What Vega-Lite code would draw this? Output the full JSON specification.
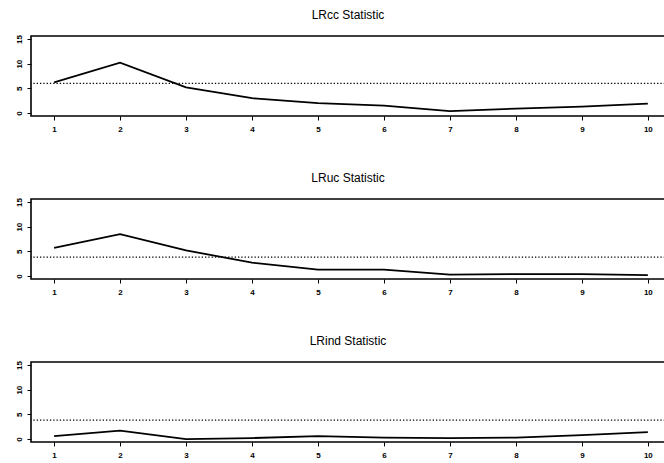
{
  "$schema": "https://vega.github.io/schema/vega-lite/v6.json",
  "padding": {"left": 0, "top": 7, "right": 0, "bottom": 0},
  "background": "white",
  "spacing": 36,
  "datasets": {
    "series": [
      {"stat": "LRcc", "lag": 1, "value": 6.2},
      {"stat": "LRcc", "lag": 2, "value": 10.2},
      {"stat": "LRcc", "lag": 3, "value": 5.2},
      {"stat": "LRcc", "lag": 4, "value": 3.0},
      {"stat": "LRcc", "lag": 5, "value": 2.0},
      {"stat": "LRcc", "lag": 6, "value": 1.5},
      {"stat": "LRcc", "lag": 7, "value": 0.4},
      {"stat": "LRcc", "lag": 8, "value": 0.9},
      {"stat": "LRcc", "lag": 9, "value": 1.3},
      {"stat": "LRcc", "lag": 10, "value": 1.9},
      {"stat": "LRuc", "lag": 1, "value": 5.7},
      {"stat": "LRuc", "lag": 2, "value": 8.5},
      {"stat": "LRuc", "lag": 3, "value": 5.2},
      {"stat": "LRuc", "lag": 4, "value": 2.7},
      {"stat": "LRuc", "lag": 5, "value": 1.3},
      {"stat": "LRuc", "lag": 6, "value": 1.3},
      {"stat": "LRuc", "lag": 7, "value": 0.3},
      {"stat": "LRuc", "lag": 8, "value": 0.4},
      {"stat": "LRuc", "lag": 9, "value": 0.4},
      {"stat": "LRuc", "lag": 10, "value": 0.2},
      {"stat": "LRind", "lag": 1, "value": 0.6},
      {"stat": "LRind", "lag": 2, "value": 1.7},
      {"stat": "LRind", "lag": 3, "value": 0.0},
      {"stat": "LRind", "lag": 4, "value": 0.2},
      {"stat": "LRind", "lag": 5, "value": 0.6},
      {"stat": "LRind", "lag": 6, "value": 0.3},
      {"stat": "LRind", "lag": 7, "value": 0.2},
      {"stat": "LRind", "lag": 8, "value": 0.3},
      {"stat": "LRind", "lag": 9, "value": 0.8},
      {"stat": "LRind", "lag": 10, "value": 1.4}
    ],
    "crit": [
      {"stat": "LRcc", "crit": 5.99},
      {"stat": "LRuc", "crit": 3.84},
      {"stat": "LRind", "crit": 3.84}
    ]
  },
  "config": {
    "font": "Liberation Sans",
    "view": {"stroke": "black", "strokeWidth": 1.6},
    "title": {"fontSize": 12, "fontWeight": "normal", "font": "Liberation Sans", "color": "black", "offset": 13},
    "axis": {
      "grid": false,
      "domain": false,
      "tickColor": "black",
      "labelColor": "black",
      "labelFont": "Liberation Sans",
      "labelFontWeight": "bold",
      "labelFontSize": 8,
      "tickSize": 4,
      "labelOverlap": false,
      "labelFlush": false,
      "title": null
    },
    "axisX": {"labelPadding": 5},
    "axisY": {"labelAngle": -90, "labelPadding": 4, "minExtent": 30, "maxExtent": 30, "labelAlign": "center", "labelBaseline": "bottom"}
  },
  "vconcat": [
    {
      "title": "LRcc Statistic",
      "width": 634,
      "height": 80,
      "layer": [
        {
          "data": {"name": "series"},
          "transform": [{"filter": "datum.stat === 'LRcc'"}],
          "mark": {"type": "line", "color": "black", "strokeWidth": 1.8},
          "encoding": {
            "x": {"field": "lag", "type": "quantitative", "scale": {"domain": [0.65, 10.26], "nice": false, "zero": false}, "axis": {"values": [1,2,3,4,5,6,7,8,9,10]}},
            "y": {"field": "value", "type": "quantitative", "scale": {"domain": [-0.6, 15.6], "nice": false}, "axis": {"values": [0,5,10,15]}}
          }
        },
        {
          "data": {"name": "crit"},
          "transform": [{"filter": "datum.stat === 'LRcc'"}],
          "mark": {"type": "rule", "color": "black", "strokeWidth": 1.3, "strokeDash": [1.3, 2]},
          "encoding": {"y": {"field": "crit", "type": "quantitative", "scale": {"domain": [-0.6, 15.6], "nice": false}, "axis": {"values": [0,5,10,15]}}}
        }
      ]
    },
    {
      "title": "LRuc Statistic",
      "width": 634,
      "height": 80,
      "layer": [
        {
          "data": {"name": "series"},
          "transform": [{"filter": "datum.stat === 'LRuc'"}],
          "mark": {"type": "line", "color": "black", "strokeWidth": 1.8},
          "encoding": {
            "x": {"field": "lag", "type": "quantitative", "scale": {"domain": [0.65, 10.26], "nice": false, "zero": false}, "axis": {"values": [1,2,3,4,5,6,7,8,9,10]}},
            "y": {"field": "value", "type": "quantitative", "scale": {"domain": [-0.6, 15.6], "nice": false}, "axis": {"values": [0,5,10,15]}}
          }
        },
        {
          "data": {"name": "crit"},
          "transform": [{"filter": "datum.stat === 'LRuc'"}],
          "mark": {"type": "rule", "color": "black", "strokeWidth": 1.3, "strokeDash": [1.3, 2]},
          "encoding": {"y": {"field": "crit", "type": "quantitative", "scale": {"domain": [-0.6, 15.6], "nice": false}, "axis": {"values": [0,5,10,15]}}}
        }
      ]
    },
    {
      "title": "LRind Statistic",
      "width": 634,
      "height": 80,
      "layer": [
        {
          "data": {"name": "series"},
          "transform": [{"filter": "datum.stat === 'LRind'"}],
          "mark": {"type": "line", "color": "black", "strokeWidth": 1.8},
          "encoding": {
            "x": {"field": "lag", "type": "quantitative", "scale": {"domain": [0.65, 10.26], "nice": false, "zero": false}, "axis": {"values": [1,2,3,4,5,6,7,8,9,10]}},
            "y": {"field": "value", "type": "quantitative", "scale": {"domain": [-0.6, 15.6], "nice": false}, "axis": {"values": [0,5,10,15]}}
          }
        },
        {
          "data": {"name": "crit"},
          "transform": [{"filter": "datum.stat === 'LRind'"}],
          "mark": {"type": "rule", "color": "black", "strokeWidth": 1.3, "strokeDash": [1.3, 2]},
          "encoding": {"y": {"field": "crit", "type": "quantitative", "scale": {"domain": [-0.6, 15.6], "nice": false}, "axis": {"values": [0,5,10,15]}}}
        }
      ]
    }
  ]
}
